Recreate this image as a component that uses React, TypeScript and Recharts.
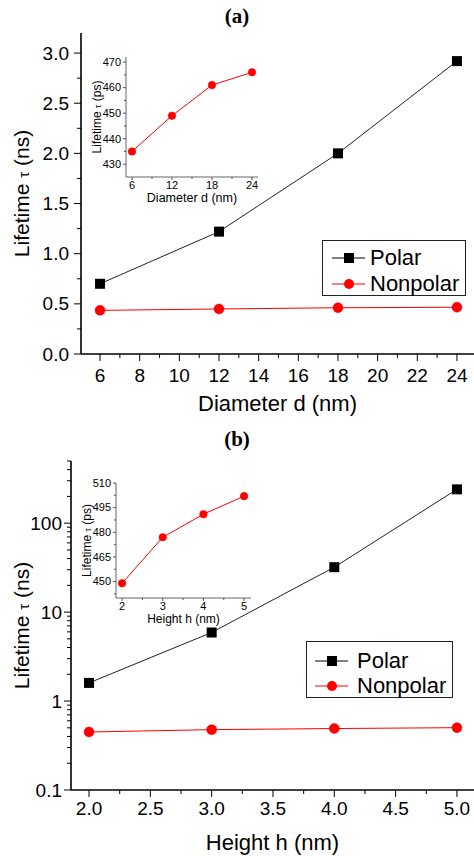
import { Line, LineChart, XAxis, YAxis } from 'recharts'

const sans = "'Liberation Sans', Arial, sans-serif"
const serif = "'Liberation Serif', 'Times New Roman', serif"

// panel (a)
const diameters = [6, 12, 18, 24]
const polarA = [0.7, 1.22, 2.0, 2.92]
const nonpolarA = [0.435, 0.449, 0.461, 0.466]
const insetA = [435, 449, 461, 466]

// panel (b)
const heights = [2, 3, 4, 5]
const polarB = [1.6, 5.9, 32, 240]
const nonpolarB = [0.449, 0.477, 0.491, 0.502]
const insetB = [449, 477, 491, 502]

// ticks
const xMajorA = [6, 8, 10, 12, 14, 16, 18, 20, 22, 24]
const xMinorA = [7, 9, 11, 13, 15, 17, 19, 21, 23]
const yMajorA = [0, 0.5, 1, 1.5, 2, 2.5, 3]
const yMinorA = [0.25, 0.75, 1.25, 1.75, 2.25, 2.75]
const xMajorB = [2, 2.5, 3, 3.5, 4, 4.5, 5]
const xMinorB = [2.25, 2.75, 3.25, 3.75, 4.25, 4.75]
const yMajorB = [0.1, 1, 10, 100]
const yMinorB = [0.2, 0.3, 0.4, 0.5, 0.6, 0.7, 0.8, 0.9, 2, 3, 4, 5, 6, 7, 8, 9, 20, 30, 40, 50, 60, 70, 80, 90, 200, 300, 400, 500]
const insetXMajorA = [6, 12, 18, 24]
const insetXMinorA = [9, 15, 21]
const insetYMajorA = [430, 440, 450, 460, 470]
const insetYMinorA = [435, 445, 455, 465]
const insetXMajorB = [2, 3, 4, 5]
const insetXMinorB = [2.5, 3.5, 4.5]
const insetYMajorB = [450, 465, 480, 495, 510]
const insetYMinorB = [442.5, 457.5, 472.5, 487.5, 502.5]

const dataA = diameters.map((d, i) => ({ d, polar: polarA[i], nonpolar: nonpolarA[i], ps: insetA[i] }))
const dataB = heights.map((h, i) => ({ h, polar: polarB[i], nonpolar: nonpolarB[i], ps: insetB[i] }))

type TickOpts = { major: number; minor: number; off: number; size: number; stroke: string }

function tickFor(side: 'left' | 'bottom', majors: number[], fmt: (v: number) => string, o: TickOpts) {
  return (p: any) => {
    const v = p.payload.value
    const big = majors.some((m) => Math.abs(m - v) < 1e-6)
    const len = big ? o.major : o.minor
    if (side === 'bottom') {
      return (
        <g>
          <line x1={p.x} x2={p.x} y1={p.y} y2={p.y + len} stroke={o.stroke} strokeWidth={1} />
          {big && (
            <text x={p.x} y={p.y + o.off} textAnchor="middle" fontSize={o.size} fontFamily={sans} fill="#000">
              {fmt(v)}
            </text>
          )}
        </g>
      )
    }
    return (
      <g>
        <line x1={p.x - len} x2={p.x} y1={p.y} y2={p.y} stroke={o.stroke} strokeWidth={1} />
        {big && (
          <text x={p.x - o.off} y={p.y} dy="0.35em" textAnchor="end" fontSize={o.size} fontFamily={sans} fill="#000">
            {fmt(v)}
          </text>
        )}
      </g>
    )
  }
}

const xTitle = (text: string, dy: number, size: number) => (p: any) => {
  const vb = p.viewBox
  return (
    <text x={vb.x + vb.width / 2} y={vb.y + dy} textAnchor="middle" fontSize={size} fontFamily={sans} fill="#000">
      {text}
    </text>
  )
}

const yTitle = (unit: string, cx: number, size: number) => (p: any) => {
  const vb = p.viewBox
  const cy = vb.y + vb.height / 2
  return (
    <text x={vb.x + cx} y={cy} dy="0.35em" textAnchor="middle" fontSize={size} fontFamily={sans} fill="#000" transform={`rotate(-90 ${vb.x + cx} ${cy})`}>
      Lifetime <tspan fontSize={size * 0.72}>τ</tspan> ({unit})
    </text>
  )
}

const square = (p: any) => (
  <rect key={`sq-${p.index}`} x={p.cx - 5} y={p.cy - 5} width={10} height={10} fill="#000" />
)

const redDot = { r: 5, fill: '#ff0000', stroke: '#ff0000', strokeWidth: 0.5 }
const insetDot = { r: 3.8, fill: '#ff0000', stroke: '#ff0000', strokeWidth: 0.5 }

const mainTick = { major: 7, minor: 4, size: 19, stroke: '#000' }
const insetTick = { major: 3, minor: 2, size: 11, stroke: '#555' }

function LegendBox({ left, top, width, height, lineX, textX, rows }: any) {
  return (
    <div
      style={{
        position: 'absolute',
        left,
        top,
        width,
        height,
        border: '1px solid #222',
        boxSizing: 'border-box',
        background: '#fff',
        fontFamily: sans,
        fontSize: 22,
      }}
    >
      {[
        { name: 'Polar', color: '#000', mark: 'square', cy: rows[0] },
        { name: 'Nonpolar', color: '#ff0000', mark: 'circle', cy: rows[1] },
      ].map((r) => (
        <div key={r.name} style={{ position: 'absolute', left: 0, top: r.cy - 13, height: 26, width: '100%' }}>
          <svg width={34} height={26} style={{ position: 'absolute', left: lineX, top: 0 }}>
            <line x1={0} x2={33} y1={13} y2={13} stroke={r.color} strokeWidth={1} />
            {r.mark === 'square' ? (
              <rect x={12} y={8} width={10} height={10} fill="#000" />
            ) : (
              <circle cx={17} cy={13} r={5} fill="#ff0000" />
            )}
          </svg>
          <span style={{ position: 'absolute', left: textX, top: 0, lineHeight: '26px' }}>{r.name}</span>
        </div>
      ))}
    </div>
  )
}

export default function App() {
  return (
    <div style={{ position: 'absolute', left: 0, top: 0, width: 474, height: 856, background: '#fff', overflow: 'hidden' }}>
      {/* (a) main */}
      <div style={{ position: 'absolute', left: 0, top: 0 }}>
        <LineChart width={474} height={420} data={dataA} margin={{ top: 33, right: 0, left: 0, bottom: 0 }}>
          <XAxis
            dataKey="d"
            type="number"
            domain={[5.04, 24.86]}
            allowDataOverflow
            ticks={[...xMajorA, ...xMinorA]}
            interval={0}
            tickSize={0}
            tickMargin={0}
            tickLine={false}
            tick={tickFor('bottom', xMajorA, (v) => String(v), { ...mainTick, off: 28 })}
            axisLine={{ stroke: '#000', strokeWidth: 1.6 }}
            height={66}
            label={xTitle('Diameter d (nm)', 57, 22)}
          />
          <XAxis xAxisId="top" orientation="top" type="number" domain={[5.04, 24.86]} height={0} tick={false} tickLine={false} axisLine={{ stroke: '#000', strokeWidth: 1.6 }} />
          <YAxis
            type="number"
            domain={[0, 3.2]}
            allowDataOverflow
            ticks={[...yMajorA, ...yMinorA]}
            interval={0}
            tickSize={0}
            tickMargin={0}
            tickLine={false}
            tick={tickFor('left', yMajorA, (v) => v.toFixed(1), { ...mainTick, off: 12 })}
            axisLine={{ stroke: '#000', strokeWidth: 1.6 }}
            width={81}
            label={yTitle('ns', 22, 21)}
          />
          <Line dataKey="polar" stroke="#222" strokeWidth={1} dot={square} isAnimationActive={false} />
          <Line dataKey="nonpolar" stroke="#ff0000" strokeWidth={1} dot={redDot} isAnimationActive={false} />
        </LineChart>
      </div>

      {/* (b) main */}
      <div style={{ position: 'absolute', left: 0, top: 420 }}>
        <LineChart width={474} height={436} data={dataB} margin={{ top: 41, right: 0, left: 0, bottom: 0 }}>
          <XAxis
            dataKey="h"
            type="number"
            domain={[1.853, 5.139]}
            allowDataOverflow
            ticks={[...xMajorB, ...xMinorB]}
            interval={0}
            tickSize={0}
            tickMargin={0}
            tickLine={false}
            tick={tickFor('bottom', xMajorB, (v) => v.toFixed(1), { ...mainTick, off: 25 })}
            axisLine={{ stroke: '#000', strokeWidth: 1.6 }}
            height={66}
            label={xTitle('Height h (nm)', 60, 22)}
          />
          <XAxis xAxisId="top" orientation="top" type="number" domain={[1.853, 5.139]} height={0} tick={false} tickLine={false} axisLine={{ stroke: '#000', strokeWidth: 1.6 }} />
          <YAxis
            type="number"
            scale="log"
            domain={[0.1, 500]}
            allowDataOverflow
            ticks={[...yMajorB, ...yMinorB]}
            interval={0}
            tickSize={0}
            tickMargin={0}
            tickLine={false}
            tick={tickFor('left', yMajorB, (v) => String(v), { ...mainTick, off: 9 })}
            axisLine={{ stroke: '#000', strokeWidth: 1.6 }}
            width={71}
            label={yTitle('ns', 22, 21)}
          />
          <Line dataKey="polar" stroke="#222" strokeWidth={1} dot={square} isAnimationActive={false} />
          <Line dataKey="nonpolar" stroke="#ff0000" strokeWidth={1} dot={redDot} isAnimationActive={false} />
        </LineChart>
      </div>

      {/* titles */}
      <div style={{ position: 'absolute', left: 0, top: 4, width: 474, textAlign: 'center', fontFamily: serif, fontWeight: 'bold', fontSize: 21 }}>(a)</div>
      <div style={{ position: 'absolute', left: 0, top: 427, width: 474, textAlign: 'center', fontFamily: serif, fontWeight: 'bold', fontSize: 21 }}>(b)</div>

      {/* (a) inset */}
      <div style={{ position: 'absolute', left: 80, top: 45 }}>
        <LineChart width={190} height={165} data={dataA} margin={{ top: 12, right: 12, left: 0, bottom: 0 }}>
          <XAxis
            dataKey="d"
            type="number"
            domain={[5.1, 24.9]}
            allowDataOverflow
            ticks={[...insetXMajorA, ...insetXMinorA]}
            interval={0}
            tickSize={0}
            tickMargin={0}
            tickLine={false}
            tick={tickFor('bottom', insetXMajorA, (v) => String(v), { ...insetTick, off: 12 })}
            axisLine={{ stroke: '#666' }}
            height={33}
            label={xTitle('Diameter  d (nm)', 25, 12.5)}
          />
          <XAxis xAxisId="top" orientation="top" type="number" domain={[5.1, 24.9]} height={0} tick={false} tickLine={false} axisLine={{ stroke: '#666' }} />
          <YAxis
            type="number"
            domain={[425, 472]}
            allowDataOverflow
            ticks={[...insetYMajorA, ...insetYMinorA]}
            interval={0}
            tickSize={0}
            tickMargin={0}
            tickLine={false}
            tick={tickFor('left', insetYMajorA, (v) => String(v), { ...insetTick, off: 5 })}
            axisLine={{ stroke: '#666' }}
            width={46}
            label={yTitle('ps', 17, 12)}
          />
          <YAxis yAxisId="right" orientation="right" type="number" domain={[425, 472]} width={0} tick={false} tickLine={false} axisLine={{ stroke: '#666' }} />
          <Line dataKey="ps" stroke="#ff0000" strokeWidth={1} dot={insetDot} isAnimationActive={false} />
        </LineChart>
      </div>

      {/* (b) inset */}
      <div style={{ position: 'absolute', left: 70, top: 470 }}>
        <LineChart width={193} height={162} data={dataB} margin={{ top: 13, right: 12, left: 0, bottom: 0 }}>
          <XAxis
            dataKey="h"
            type="number"
            domain={[1.85, 5.17]}
            allowDataOverflow
            ticks={[...insetXMajorB, ...insetXMinorB]}
            interval={0}
            tickSize={0}
            tickMargin={0}
            tickLine={false}
            tick={tickFor('bottom', insetXMajorB, (v) => String(v), { ...insetTick, off: 12 })}
            axisLine={{ stroke: '#666' }}
            height={34}
            label={xTitle('Height h (nm)', 25, 12)}
          />
          <XAxis xAxisId="top" orientation="top" type="number" domain={[1.85, 5.17]} height={0} tick={false} tickLine={false} axisLine={{ stroke: '#666' }} />
          <YAxis
            type="number"
            domain={[440, 510]}
            allowDataOverflow
            ticks={[...insetYMajorB, ...insetYMinorB]}
            interval={0}
            tickSize={0}
            tickMargin={0}
            tickLine={false}
            tick={tickFor('left', insetYMajorB, (v) => String(v), { ...insetTick, off: 5 })}
            axisLine={{ stroke: '#666' }}
            width={46}
            label={yTitle('ps', 17, 12)}
          />
          <YAxis yAxisId="right" orientation="right" type="number" domain={[440, 510]} width={0} tick={false} tickLine={false} axisLine={{ stroke: '#666' }} />
          <Line dataKey="ps" stroke="#ff0000" strokeWidth={1} dot={insetDot} isAnimationActive={false} />
        </LineChart>
      </div>

      <LegendBox left={322} top={240} width={144} height={56} lineX={9} textX={47} rows={[17, 43]} />
      <LegendBox left={306} top={641} width={147} height={57} lineX={8} textX={50} rows={[19, 44]} />
    </div>
  )
}
